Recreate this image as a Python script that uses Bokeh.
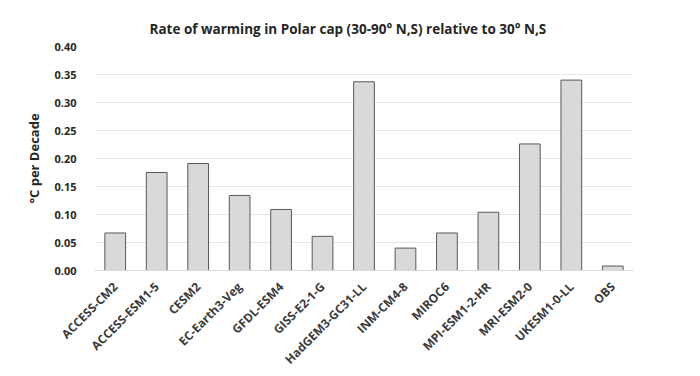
from bokeh.plotting import figure
from bokeh.models import ColumnDataSource, Range1d, FixedTicker, NumeralTickFormatter
from bokeh.embed import file_html
from bokeh.resources import INLINE
import math

models = ["ACCESS-CM2", "ACCESS-ESM1-5", "CESM2", "EC-Earth3-Veg", "GFDL-ESM4", "GISS-E2-1-G",
          "HadGEM3-GC31-LL", "INM-CM4-8", "MIROC6", "MPI-ESM1-2-HR", "MRI-ESM2-0", "UKESM1-0-LL", "OBS"]
rates = [0.067, 0.175, 0.191, 0.134, 0.109, 0.061, 0.337, 0.040, 0.067, 0.104, 0.226, 0.340, 0.008]
y_ticks = [0.0, 0.05, 0.10, 0.15, 0.20, 0.25, 0.30, 0.35, 0.40]
y_title = "°C per Decade"

src = ColumnDataSource(data=dict(model=models, rate=rates))

p = figure(x_range=models, frame_width=539, frame_height=224, output_backend="svg", toolbar_location=None,
           title="Rate of warming in Polar cap (30-90° N,S) relative to 30° N,S")
p.min_border_left = 94
p.min_border_right = 67
p.min_border_top = 46
p.min_border_bottom = 104
p.y_range = Range1d(0, 0.40)

p.vbar(x="model", top="rate", width=0.5, source=src, fill_color="#d9d9d9",
       line_color="#595959", line_width=1)

p.title.align = "left"
p.title.text_font = "Open Sans"
p.title.text_font_size = "13.5px"
p.title.text_font_style = "bold"
p.title.text_color = "#262626"
p.title.offset = 55
p.title.standoff = 18

p.yaxis.ticker = FixedTicker(ticks=y_ticks)
p.yaxis.formatter = NumeralTickFormatter(format="0.00")
p.yaxis.axis_label = y_title
p.yaxis.axis_label_text_font = "Open Sans"
p.yaxis.axis_label_text_font_size = "13px"
p.yaxis.axis_label_text_font_style = "bold"
p.yaxis.axis_label_text_color = "#262626"
p.yaxis.axis_label_standoff = 8
p.yaxis.major_label_text_font = "Open Sans"
p.yaxis.major_label_text_font_size = "11px"
p.yaxis.major_label_text_font_style = "bold"
p.yaxis.major_label_text_color = "#262626"
p.yaxis.axis_line_color = None
p.yaxis.major_tick_line_color = None
p.yaxis.minor_tick_line_color = None
p.yaxis.major_label_standoff = 12

p.xaxis.major_label_orientation = math.pi / 4
p.xaxis.major_label_text_font = "Open Sans"
p.xaxis.major_label_text_font_size = "12px"
p.xaxis.major_label_text_font_style = "bold"
p.xaxis.major_label_text_color = "#3a3a3a"
p.xaxis.axis_line_color = "#d9d9d9"
p.xaxis.major_tick_line_color = None
p.xaxis.minor_tick_line_color = None
p.xaxis.major_label_standoff = 8

p.xgrid.grid_line_color = None
p.ygrid.grid_line_color = "#e6e6e6"
p.outline_line_color = None
p.x_range.range_padding = 0

open("out.html", "w").write(file_html(p, INLINE))
